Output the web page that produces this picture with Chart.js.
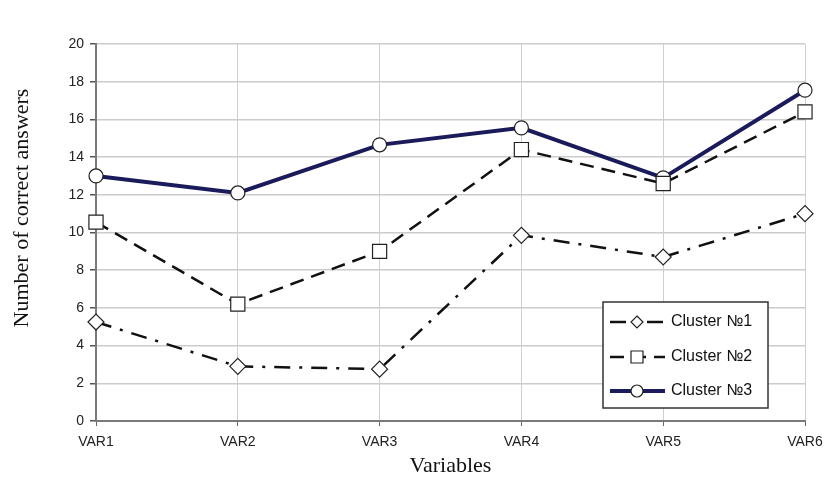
<!DOCTYPE html>
<html>
<head>
<meta charset="utf-8">
<script src="https://cdn.jsdelivr.net/npm/chart.js@4/dist/chart.umd.min.js"></script>
<style>
  html, body { margin: 0; padding: 0; background: #fff; }
  #wrap { width: 825px; height: 486px; }
</style>
</head>
<body>
<div id="wrap"><canvas id="chart" width="825" height="486"></canvas></div>
<script>
const labels = ['VAR1', 'VAR2', 'VAR3', 'VAR4', 'VAR5', 'VAR6'];
const cluster1 = [5.25, 2.9, 2.75, 9.85, 8.7, 11.0];
const cluster2 = [10.55, 6.2, 9.0, 14.4, 12.6, 16.4];
const cluster3 = [13.0, 12.1, 14.65, 15.55, 12.9, 17.55];
const seriesNames = ['Cluster №1', 'Cluster №2', 'Cluster №3'];
const yTitle = 'Number of correct answers';
const xTitle = 'Variables';

// legend box inside the plot + serif axis titles
const extras = {
  id: 'extras',
  afterDraw(chart) {
    const ctx = chart.ctx;
    const area = chart.chartArea;
    ctx.save();

    // axis titles
    ctx.fillStyle = '#111';
    ctx.font = '22px "Liberation Serif", "Times New Roman", serif';
    ctx.textAlign = 'center';
    ctx.textBaseline = 'middle';
    ctx.fillText(xTitle, (area.left + area.right) / 2, 466);
    ctx.translate(22, 208);
    ctx.rotate(-Math.PI / 2);
    ctx.fillText(yTitle, 0, 0);
    ctx.setTransform(1, 0, 0, 1, 0, 0);

    // legend
    const bx = 603, by = 302, bw = 165, bh = 106;
    ctx.fillStyle = '#fff';
    ctx.fillRect(bx, by, bw, bh);
    ctx.strokeStyle = '#333';
    ctx.lineWidth = 1.5;
    ctx.strokeRect(bx, by, bw, bh);

    const rows = [322, 357, 391];
    chart.data.datasets.forEach((ds, i) => {
      const y = rows[i];
      ctx.strokeStyle = ds.borderColor;
      ctx.lineWidth = ds.borderWidth;
      ctx.setLineDash(ds.borderDash || []);
      ctx.beginPath();
      ctx.moveTo(610, y);
      ctx.lineTo(665, y);
      ctx.stroke();
      ctx.setLineDash([]);
      const px = 637, r = 6;
      ctx.fillStyle = '#fff';
      ctx.strokeStyle = '#222';
      ctx.lineWidth = 1.2;
      ctx.beginPath();
      if (ds.pointStyle === 'rectRot') {
        ctx.moveTo(px, y - r); ctx.lineTo(px + r, y); ctx.lineTo(px, y + r); ctx.lineTo(px - r, y); ctx.closePath();
      } else if (ds.pointStyle === 'rect') {
        ctx.rect(px - r, y - r, 2 * r, 2 * r);
      } else {
        ctx.arc(px, y, r, 0, Math.PI * 2);
      }
      ctx.fill();
      ctx.stroke();
      ctx.fillStyle = '#111';
      ctx.font = '16px "Liberation Sans Narrow", Arial, sans-serif';
      ctx.textAlign = 'left';
      ctx.textBaseline = 'middle';
      ctx.fillText(ds.label, 671, y);
    });
    ctx.restore();
  }
};

const ctx = document.getElementById('chart');

new Chart(ctx, {
  type: 'line',
  data: {
    labels: labels,
    datasets: [{
      label: seriesNames[0],
      data: cluster1,
      borderColor: '#111',
      borderWidth: 2.5,
      borderDash: [16, 9, 3, 9],
      pointStyle: 'rectRot',
      pointRadius: 8,
      pointBackgroundColor: '#fff',
      pointBorderColor: '#222',
      pointBorderWidth: 1.2
    },
    {
      label: seriesNames[1],
      data: cluster2,
      borderColor: '#111',
      borderWidth: 2.5,
      borderDash: [14, 8],
      pointStyle: 'rect',
      pointRadius: 10,
      pointBackgroundColor: '#fff',
      pointBorderColor: '#222',
      pointBorderWidth: 1.2
    },
    {
      label: seriesNames[2],
      data: cluster3,
      borderColor: '#1b1b5c',
      borderWidth: 4,
      pointStyle: 'circle',
      pointRadius: 7,
      pointBackgroundColor: '#fff',
      pointBorderColor: '#222',
      pointBorderWidth: 1.2
    }]
  },
  options: {
    responsive: false,
    animation: false,
    layout: { padding: { top: 44, right: 20, left: 0, bottom: 0 } },
    plugins: {
      legend: { display: false },
      tooltip: { enabled: false }
    },
    scales: {
      x: {
        offset: false,
        afterFit: function(scale) {
          scale.height = 65;
          scale.paddingRight = 0;
          scale.paddingLeft = 0;
        },
        grid: { color: '#cfcfcf', lineWidth: 1, tickLength: 5, tickColor: '#666' },
        border: { color: '#7a7a7a', width: 2 },
        ticks: {
          color: '#222',
          padding: 8,
          maxRotation: 0,
          font: { family: '"Liberation Sans Narrow", Arial, sans-serif', size: 14 }
        }
      },
      y: {
        min: 0,
        max: 20,
        afterFit: function(scale) { scale.width = 96; },
        grid: { color: '#cccccc', lineWidth: 1.5, tickLength: 6, tickColor: '#555' },
        border: { color: '#7a7a7a', width: 2 },
        ticks: {
          stepSize: 2,
          color: '#222',
          padding: 6,
          font: { family: 'Arial, sans-serif', size: 14 }
        }
      }
    }
  },
  plugins: [extras]
});
</script>
</body>
</html>
